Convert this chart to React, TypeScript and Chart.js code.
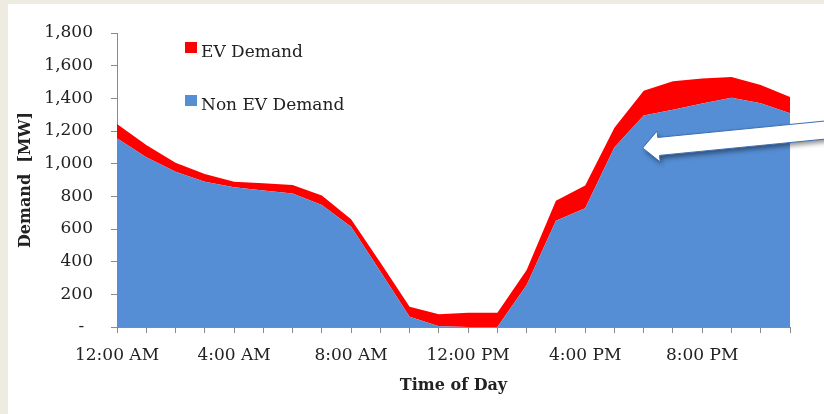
import React, { useEffect, useRef } from "react";
import { Chart, registerables } from "chart.js";

Chart.register(...registerables);

// ---- data ----
const hours = [
  "12:00 AM", "1:00 AM", "2:00 AM", "3:00 AM", "4:00 AM", "5:00 AM",
  "6:00 AM", "7:00 AM", "8:00 AM", "9:00 AM", "10:00 AM", "11:00 AM",
  "12:00 PM", "1:00 PM", "2:00 PM", "3:00 PM", "4:00 PM", "5:00 PM",
  "6:00 PM", "7:00 PM", "8:00 PM", "9:00 PM", "10:00 PM", "11:00 PM",
];
const nonEvDemand = [
  1155, 1040, 951, 890, 855, 835, 818, 747, 614, 340, 63, 5,
  0, 0, 257, 651, 727, 1100, 1295, 1330, 1368, 1403, 1370, 1308,
];
const evDemand = [
  88, 75, 54, 47, 35, 45, 51, 58, 45, 55, 61, 73,
  88, 88, 92, 122, 139, 120, 152, 174, 154, 127, 112, 100,
];
const labelEvery = 4;
const yMin = 0;
const yMax = 1800;
const yStep = 200;
const seriesNames = ["Non EV Demand", "EV Demand"];
const xTitle = "Time of Day";
const yTitle = "Demand  [MW]";
const arrowTarget = { index: 18, value: 1096 };

// ---- styles ----
const BLUE = "#558ED5";
const RED = "#FF0000";
const AXIS = "#8a8a8a";
const TEXT = "#222222";
const FONT = "'DejaVu Serif', serif";

const fmt = (v: number) =>
  v === 0 ? "- \u2009" : String(v).replace(/\B(?=(\d{3})+(?!\d))/g, ",");

const legendPlugin = {
  id: "customLegend",
  afterDraw(chart: any) {
    const { ctx, chartArea } = chart;
    const items = [
      { label: seriesNames[1], color: RED },
      { label: seriesNames[0], color: BLUE },
    ];
    ctx.save();
    ctx.font = `17px ${FONT}`;
    ctx.textBaseline = "alphabetic";
    ctx.textAlign = "left";
    items.forEach((it, i) => {
      const bx = chartArea.left + 68;
      const by = chartArea.top + 9 + i * 53;
      ctx.fillStyle = it.color;
      ctx.fillRect(bx, by, 12, 11);
      ctx.fillStyle = TEXT;
      ctx.fillText(it.label, bx + 16, by + 15);
    });
    ctx.restore();
  },
};

const arrowPlugin = {
  id: "calloutArrow",
  afterDraw(chart: any) {
    const { ctx } = chart;
    const xs = chart.scales.x;
    const ys = chart.scales.y;
    const tipX = xs.getPixelForValue(arrowTarget.index) - 1;
    const tipY = ys.getPixelForValue(arrowTarget.value);
    const ang = -0.098;
    const c = Math.cos(ang);
    const s = Math.sin(ang);
    const pts = [
      [0, 0], [16, -15.5], [16, -9], [300, -9], [300, 9], [16, 9], [16, 15.5],
    ];
    ctx.save();
    ctx.beginPath();
    pts.forEach(([u, v], i) => {
      const px = tipX + u * c - v * s;
      const py = tipY + u * s + v * c;
      if (i === 0) ctx.moveTo(px, py);
      else ctx.lineTo(px, py);
    });
    ctx.closePath();
    ctx.shadowColor = "rgba(0,0,0,0.45)";
    ctx.shadowBlur = 5;
    ctx.shadowOffsetX = 2;
    ctx.shadowOffsetY = 3;
    ctx.fillStyle = "#ffffff";
    ctx.fill();
    ctx.shadowColor = "transparent";
    ctx.strokeStyle = "#3f6fb0";
    ctx.lineWidth = 1;
    ctx.stroke();
    ctx.restore();
  },
};

export default function App() {
  const ref = useRef<HTMLCanvasElement | null>(null);

  useEffect(() => {
    document.body.style.margin = "0";
    document.body.style.background = "#EEECE1";
    if (!ref.current) return;
    const chart = new Chart(ref.current, {
      type: "line",
      data: {
        labels: hours,
        datasets: [
          {
            label: seriesNames[0],
            data: nonEvDemand,
            backgroundColor: BLUE,
            borderColor: BLUE,
            borderWidth: 0,
            pointRadius: 0,
            fill: "origin",
            tension: 0,
          },
          {
            label: seriesNames[1],
            data: evDemand,
            backgroundColor: RED,
            borderColor: RED,
            borderWidth: 0,
            pointRadius: 0,
            fill: "-1",
            tension: 0,
          },
        ],
      },
      options: {
        animation: false,
        responsive: false,
        maintainAspectRatio: false,
        devicePixelRatio: 1,
        layout: { padding: { left: 0, top: 29, right: 34, bottom: 0 } },
        plugins: {
          legend: { display: false },
          tooltip: { enabled: false },
        },
        scales: {
          x: {
            type: "category",
            z: 1,
            grid: {
              display: true,
              drawOnChartArea: false,
              drawTicks: true,
              tickLength: 6,
              color: AXIS,
            },
            border: { display: true, color: AXIS, width: 1 },
            ticks: {
              autoSkip: false,
              maxRotation: 0,
              minRotation: 0,
              padding: 12,
              color: TEXT,
              font: { family: FONT, size: 17 },
              callback: (_v: any, idx: number) =>
                idx % labelEvery === 0 ? hours[idx] : "",
            },
            title: {
              display: true,
              text: xTitle,
              color: TEXT,
              font: { family: FONT, size: 16, weight: "bold" },
              padding: { top: 0, bottom: 19 },
            },
            afterFit: (scale: any) => {
              scale.height = 87;
            },
          },
          y: {
            stacked: true,
            z: 1,
            min: yMin,
            max: yMax,
            grid: {
              display: true,
              drawOnChartArea: false,
              drawTicks: true,
              tickLength: 6,
              color: AXIS,
            },
            border: { display: true, color: AXIS, width: 1 },
            ticks: {
              stepSize: yStep,
              padding: 18,
              color: TEXT,
              font: { family: FONT, size: 17 },
              callback: (v: any) => fmt(Number(v)),
            },
            title: {
              display: true,
              text: yTitle,
              color: TEXT,
              font: { family: FONT, size: 16, weight: "bold" },
              padding: { top: 8, bottom: 0 },
            },
            afterFit: (scale: any) => {
              scale.width = 109;
            },
          },
        },
      },
      plugins: [legendPlugin, arrowPlugin],
    } as any);
    return () => chart.destroy();
  }, []);

  return (
    <div
      style={{
        position: "relative",
        width: 824,
        height: 414,
        background: "#EEECE1",
        overflow: "hidden",
      }}
    >
      <div
        style={{
          position: "absolute",
          left: 8,
          top: 4,
          width: 816,
          height: 410,
          background: "#ffffff",
        }}
      >
        <canvas ref={ref} width={816} height={410} style={{ display: "block" }} />
      </div>
    </div>
  );
}
